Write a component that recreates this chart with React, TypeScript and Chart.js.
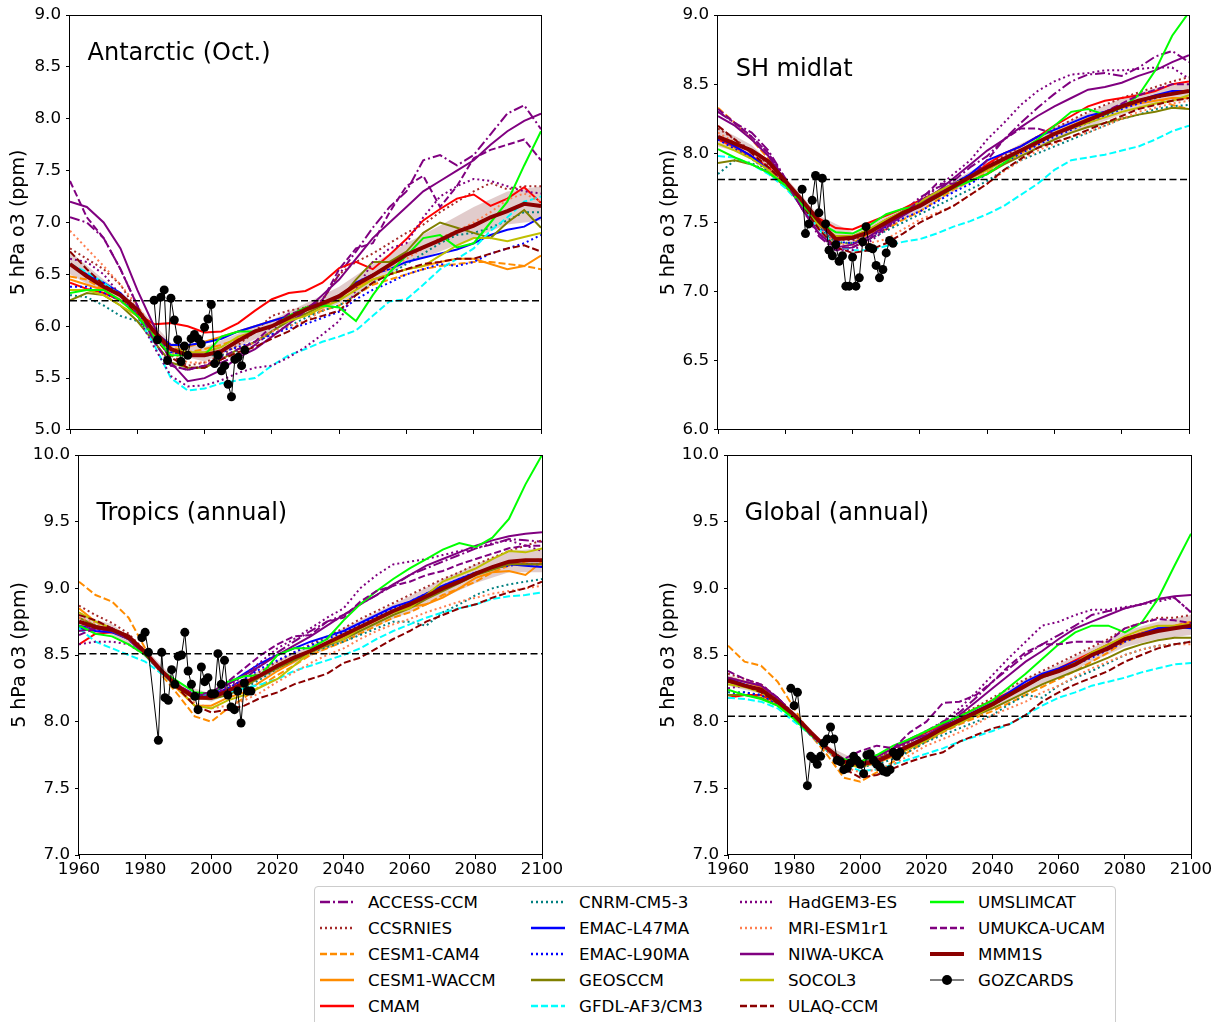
import React, { useEffect, useRef } from 'react';
import { Chart, registerables } from 'chart.js';
Chart.register(...registerables);

const FONT = '"DejaVu Sans", "Liberation Sans", sans-serif';

// ---------------- x grids ----------------
const YEARS = [1960,1965,1970,1975,1980,1985,1990,1995,2000,2005,2010,2015,2020,2025,2030,2035,2040,2045,2050,2055,2060,2065,2070,2075,2080,2085,2090,2095,2100];
const BAND_YEARS = [1960,1970,1980,1990,2000,2010,2020,2030,2040,2050,2060,2070,2080,2090,2100];

// ---------------- Antarctic (Oct.) ----------------
const antACCESS = [7.05,7.00,6.85,6.55,6.20,5.85,5.62,5.58,5.62,5.65,5.72,5.82,5.95,6.10,6.18,6.25,6.50,6.72,6.95,7.15,7.30,7.60,7.65,7.55,7.65,7.85,8.05,8.13,7.90];
const antCCSR = [6.75,6.65,6.55,6.40,6.15,5.95,5.72,5.62,5.65,5.72,5.82,5.95,6.10,6.15,6.18,6.25,6.50,6.62,6.70,6.80,6.90,6.98,7.10,7.20,7.30,7.38,7.32,7.35,7.35];
const antCAM4 = [6.48,6.45,6.35,6.25,6.12,5.95,5.80,5.75,5.78,5.82,5.88,5.95,6.00,6.05,6.10,6.15,6.20,6.30,6.40,6.45,6.50,6.55,6.58,6.60,6.62,6.62,6.60,6.58,6.55];
const antWACCM = [6.45,6.40,6.35,6.25,6.12,5.95,5.82,5.80,5.85,5.90,5.95,6.00,6.05,6.10,6.15,6.20,6.28,6.38,6.45,6.50,6.55,6.58,6.62,6.65,6.65,6.60,6.55,6.58,6.68];
const antCMAM = [6.42,6.36,6.32,6.25,6.12,6.02,6.03,6.00,5.94,5.95,6.03,6.15,6.26,6.32,6.34,6.42,6.56,6.62,6.55,6.69,6.84,7.02,7.13,7.23,7.27,7.16,7.23,7.34,7.19];
const antCNRM = [6.30,6.28,6.20,6.10,6.05,5.92,5.75,5.72,5.72,5.72,5.76,5.85,5.92,6.00,6.08,6.15,6.20,6.30,6.42,6.50,6.60,6.70,6.80,6.88,6.90,6.95,7.02,7.10,7.10];
const antEMAC47 = [6.60,6.50,6.42,6.32,6.15,5.95,5.82,5.82,5.84,5.88,5.95,6.00,6.05,6.10,6.16,6.20,6.28,6.42,6.50,6.55,6.62,6.66,6.70,6.74,6.80,6.88,6.93,6.96,7.05];
const antEMAC90 = [6.38,6.38,6.32,6.25,6.12,5.92,5.75,5.72,5.72,5.75,5.80,5.85,5.92,5.98,6.02,6.08,6.14,6.26,6.35,6.42,6.50,6.55,6.60,6.58,6.62,6.70,6.75,6.80,6.88];
const antGEOS = [6.25,6.32,6.30,6.20,6.05,5.85,5.65,5.60,5.60,5.68,5.78,5.85,5.95,6.05,6.12,6.20,6.25,6.45,6.62,6.62,6.72,6.90,7.00,6.95,6.90,6.85,7.00,7.12,6.95];
const antGFDL = [6.60,6.52,6.42,6.30,6.10,5.82,5.50,5.38,5.40,5.45,5.48,5.50,5.62,5.72,5.78,5.85,5.90,5.96,6.10,6.24,6.26,6.40,6.55,6.65,6.75,6.92,7.05,7.20,7.25];
const antHAD = [6.65,6.62,6.50,6.30,6.10,5.80,5.52,5.42,5.43,5.48,5.55,5.60,5.62,5.70,5.80,5.92,6.05,6.35,6.62,6.75,6.80,7.05,7.25,7.35,7.42,7.40,7.35,7.30,7.28];
const antMRI = [6.92,6.75,6.58,6.40,6.20,5.95,5.75,5.65,5.65,5.68,5.75,5.85,5.95,6.00,6.05,6.15,6.30,6.40,6.50,6.55,6.65,6.75,6.85,6.92,7.00,7.10,7.22,7.28,7.20];
const antNIWA = [7.20,7.15,7.00,6.75,6.35,6.00,5.65,5.47,5.50,5.58,5.70,5.78,5.90,6.02,6.15,6.30,6.45,6.65,6.85,7.00,7.15,7.30,7.40,7.50,7.60,7.75,7.88,7.98,8.05];
const antSOCOL = [6.35,6.35,6.30,6.20,6.10,5.92,5.78,5.75,5.75,5.80,5.90,5.95,6.00,6.05,6.10,6.18,6.25,6.35,6.45,6.50,6.55,6.58,6.68,6.78,6.85,6.85,6.82,6.86,6.90];
const antULAQ = [6.72,6.55,6.40,6.30,6.10,5.90,5.70,5.60,5.60,5.68,5.75,5.80,5.88,5.95,6.05,6.10,6.15,6.30,6.42,6.50,6.55,6.60,6.62,6.65,6.65,6.70,6.75,6.78,6.72];
const antSLIM = [6.32,6.35,6.35,6.25,6.10,5.90,5.72,5.72,5.72,5.90,5.95,5.95,6.00,6.10,6.18,6.20,6.18,6.05,6.30,6.52,6.68,6.85,6.88,6.76,6.80,7.00,7.20,7.55,7.88];
const antUMUKCA = [7.40,7.05,6.85,6.55,6.20,5.85,5.62,5.58,5.62,5.70,5.78,5.85,6.00,6.12,6.15,6.25,6.55,6.75,6.80,7.10,7.35,7.45,7.15,7.35,7.62,7.70,7.75,7.80,7.60];
const antMMM = [6.60,6.48,6.38,6.30,6.16,5.95,5.78,5.72,5.72,5.76,5.86,5.95,6.00,6.08,6.16,6.22,6.29,6.40,6.49,6.59,6.69,6.76,6.83,6.91,6.97,7.05,7.11,7.18,7.16];
const antLO = [6.50,6.32,6.12,5.74,5.66,5.80,5.95,6.10,6.22,6.40,6.60,6.72,6.85,6.98,7.02];
const antHI = [6.72,6.45,6.20,5.84,5.80,5.93,6.06,6.22,6.38,6.60,6.80,6.97,7.15,7.30,7.35];
const antREF = 6.245;
const antOBS_YEARS = [1985,1986,1987,1988,1989,1990,1991,1992,1993,1994,1995,1996,1997,1998,1999,2000,2001,2002,2003,2004,2005,2006,2007,2008,2009,2010,2011,2012];
const antOBS = [6.25,5.87,6.28,6.35,5.67,6.27,6.06,5.87,5.66,5.81,5.72,5.88,5.92,5.88,5.83,5.99,6.07,6.21,5.64,5.72,5.57,5.62,5.44,5.32,5.68,5.70,5.62,5.77];

// ---------------- SH midlat ----------------
const shACCESS = [8.30,8.22,8.15,8.02,7.82,7.60,7.40,7.30,7.32,7.38,7.48,7.58,7.68,7.75,7.80,7.90,7.98,8.10,8.22,8.33,8.43,8.52,8.57,8.58,8.56,8.62,8.70,8.74,8.66];
const shCCSR = [8.18,8.10,8.02,7.92,7.80,7.65,7.48,7.38,7.37,7.42,7.50,7.57,7.64,7.71,7.78,7.85,7.92,7.98,8.05,8.12,8.18,8.24,8.30,8.35,8.40,8.44,8.48,8.52,8.55];
const shCAM4 = [8.33,8.22,8.10,7.96,7.80,7.62,7.45,7.35,7.35,7.42,7.45,7.52,7.58,7.66,7.74,7.80,7.86,7.93,8.00,8.07,8.14,8.20,8.25,8.30,8.35,8.38,8.40,8.35,8.32];
const shWACCM = [8.10,8.04,7.97,7.88,7.78,7.64,7.49,7.40,7.40,7.44,7.50,7.57,7.63,7.70,7.76,7.82,7.88,7.95,8.02,8.08,8.15,8.20,8.25,8.30,8.33,8.36,8.38,8.40,8.40];
const shCMAM = [8.10,8.05,7.98,7.90,7.78,7.65,7.53,7.46,7.45,7.50,7.55,7.60,7.66,7.72,7.77,7.83,7.92,8.00,8.05,8.12,8.20,8.27,8.34,8.38,8.40,8.42,8.45,8.50,8.52];
const shCNRM = [7.85,7.95,7.93,7.86,7.76,7.62,7.46,7.36,7.35,7.38,7.44,7.50,7.56,7.62,7.68,7.74,7.80,7.88,7.95,8.00,8.05,8.10,8.15,8.20,8.25,8.28,8.32,8.34,8.35];
const shEMAC47 = [8.12,8.05,7.98,7.88,7.78,7.63,7.48,7.38,7.38,7.44,7.50,7.58,7.65,7.72,7.78,7.85,7.95,8.00,8.05,8.12,8.17,8.22,8.27,8.30,8.35,8.38,8.42,8.45,8.45];
const shEMAC90 = [8.10,8.03,7.96,7.87,7.77,7.62,7.46,7.36,7.35,7.40,7.47,7.53,7.58,7.65,7.72,7.78,7.85,7.93,8.00,8.06,8.12,8.17,8.22,8.27,8.32,8.36,8.40,8.43,8.45];
const shGEOS = [7.93,7.95,7.92,7.86,7.76,7.63,7.48,7.40,7.40,7.45,7.52,7.58,7.64,7.70,7.76,7.80,7.85,7.92,7.98,8.04,8.10,8.15,8.19,8.22,8.25,8.28,8.30,8.33,8.32];
const shGFDL = [7.98,7.97,7.92,7.85,7.75,7.62,7.45,7.33,7.30,7.30,7.33,7.36,7.38,7.42,7.47,7.51,7.56,7.62,7.70,7.78,7.88,7.95,7.97,7.99,8.02,8.05,8.10,8.16,8.20];
const shHAD = [8.30,8.22,8.12,8.00,7.82,7.60,7.42,7.30,7.30,7.36,7.45,7.55,7.65,7.75,7.85,7.95,8.10,8.22,8.35,8.45,8.52,8.57,8.58,8.60,8.60,8.61,8.62,8.62,8.54];
const shMRI = [8.15,8.08,8.00,7.90,7.78,7.63,7.46,7.35,7.33,7.35,7.38,7.45,7.52,7.57,7.62,7.70,7.78,7.87,7.95,8.02,8.07,8.12,8.15,8.20,8.25,8.30,8.33,8.36,8.38];
const shNIWA = [8.27,8.20,8.10,7.98,7.80,7.60,7.42,7.32,7.34,7.40,7.48,7.55,7.62,7.72,7.82,7.92,8.02,8.10,8.19,8.27,8.34,8.40,8.46,8.48,8.51,8.56,8.60,8.66,8.71];
const shSOCOL = [8.07,8.02,7.96,7.88,7.77,7.63,7.48,7.40,7.40,7.45,7.52,7.58,7.65,7.72,7.78,7.83,7.88,7.95,8.02,8.08,8.14,8.18,8.22,8.26,8.30,8.33,8.36,8.38,8.42];
const shULAQ = [8.20,8.10,8.00,7.90,7.78,7.63,7.45,7.32,7.28,7.30,7.35,7.42,7.50,7.56,7.62,7.70,7.78,7.88,7.96,8.04,8.08,8.12,8.17,8.22,8.27,8.32,8.35,8.38,8.40];
const shSLIM = [8.03,7.97,7.92,7.86,7.77,7.63,7.50,7.43,7.42,7.48,7.56,7.60,7.62,7.68,7.75,7.80,7.85,7.93,8.02,8.10,8.20,8.30,8.32,8.28,8.33,8.42,8.60,8.85,9.02];
const shUMUKCA = [8.32,8.22,8.12,8.00,7.80,7.60,7.42,7.32,7.32,7.38,7.46,7.56,7.66,7.78,7.78,7.82,7.95,8.10,8.18,8.18,8.14,8.18,8.24,8.30,8.36,8.42,8.46,8.50,8.50];
const shMMM = [8.12,8.07,8.02,7.94,7.80,7.66,7.51,7.38,7.39,7.43,7.50,7.57,7.62,7.69,7.76,7.83,7.90,7.96,8.02,8.08,8.14,8.19,8.24,8.29,8.34,8.38,8.41,8.43,8.45];
const shLO = [8.05,7.98,7.77,7.47,7.35,7.46,7.58,7.72,7.86,7.97,8.09,8.19,8.28,8.35,8.39];
const shHI = [8.19,8.06,7.83,7.55,7.43,7.54,7.66,7.80,7.94,8.07,8.19,8.29,8.40,8.47,8.51];
const shREF = 7.81;
const shOBS_YEARS = [1985,1986,1987,1988,1989,1990,1991,1992,1993,1994,1995,1996,1997,1998,1999,2000,2001,2002,2003,2004,2005,2006,2007,2008,2009,2010,2011,2012];
const shOBS = [7.74,7.42,7.49,7.66,7.84,7.57,7.82,7.49,7.30,7.26,7.34,7.22,7.26,7.04,7.04,7.25,7.04,7.10,7.36,7.47,7.32,7.31,7.19,7.10,7.16,7.28,7.37,7.35];

// ---------------- Tropics (annual) ----------------
const trACCESS = [8.72,8.70,8.68,8.62,8.50,8.38,8.27,8.20,8.20,8.25,8.32,8.42,8.52,8.60,8.68,8.75,8.80,8.88,8.95,9.02,9.10,9.15,9.20,9.25,9.30,9.33,9.37,9.36,9.35];
const trCCSR = [8.87,8.80,8.74,8.66,8.53,8.38,8.26,8.18,8.18,8.24,8.30,8.38,8.45,8.52,8.58,8.64,8.70,8.77,8.83,8.89,8.95,9.01,9.07,9.12,9.18,9.23,9.28,9.32,9.36];
const trCAM4 = [9.05,8.95,8.90,8.78,8.55,8.35,8.20,8.04,8.00,8.10,8.18,8.27,8.35,8.42,8.50,8.55,8.60,8.66,8.72,8.78,8.82,8.88,8.95,9.00,9.05,9.12,9.17,9.20,9.22];
const trWACCM = [8.85,8.75,8.70,8.64,8.52,8.37,8.24,8.12,8.12,8.18,8.22,8.30,8.38,8.45,8.52,8.58,8.64,8.70,8.76,8.82,8.86,8.88,8.93,9.00,9.08,9.12,9.13,9.10,9.20];
const trCMAM = [8.58,8.66,8.67,8.64,8.52,8.38,8.27,8.19,8.18,8.22,8.28,8.35,8.42,8.48,8.53,8.59,8.65,8.71,8.77,8.83,8.89,8.95,9.01,9.06,9.11,9.15,9.18,9.18,9.18];
const trCNRM = [8.75,8.72,8.68,8.62,8.50,8.37,8.26,8.19,8.18,8.20,8.25,8.32,8.40,8.46,8.52,8.56,8.60,8.65,8.70,8.75,8.75,8.72,8.82,8.88,8.95,9.00,9.03,9.05,9.07];
const trEMAC47 = [8.70,8.68,8.67,8.62,8.50,8.37,8.26,8.20,8.21,8.28,8.36,8.44,8.50,8.55,8.60,8.64,8.68,8.74,8.80,8.86,8.90,8.96,9.02,9.07,9.12,9.15,9.18,9.17,9.16];
const trEMAC90 = [8.72,8.69,8.68,8.62,8.50,8.37,8.26,8.19,8.19,8.25,8.32,8.40,8.46,8.52,8.57,8.62,8.67,8.73,8.79,8.85,8.90,8.96,9.02,9.07,9.12,9.15,9.17,9.18,9.18];
const trGEOS = [8.78,8.72,8.68,8.62,8.50,8.37,8.26,8.18,8.17,8.20,8.26,8.34,8.40,8.46,8.52,8.57,8.62,8.68,8.74,8.80,8.85,8.92,8.98,9.04,9.10,9.14,9.18,9.18,9.18];
const trGFDL = [8.70,8.60,8.55,8.50,8.45,8.36,8.26,8.21,8.20,8.22,8.25,8.28,8.32,8.38,8.42,8.46,8.50,8.55,8.62,8.68,8.73,8.78,8.82,8.85,8.88,8.92,8.94,8.95,8.97];
const trHAD = [8.58,8.60,8.60,8.58,8.50,8.38,8.27,8.20,8.20,8.26,8.35,8.45,8.55,8.62,8.70,8.78,8.85,9.00,9.10,9.18,9.20,9.22,9.25,9.28,9.30,9.34,9.36,9.32,9.28];
const trMRI = [8.78,8.74,8.70,8.64,8.52,8.38,8.25,8.14,8.10,8.12,8.16,8.22,8.30,8.37,8.44,8.50,8.55,8.62,8.68,8.73,8.77,8.82,8.86,8.90,8.93,8.96,8.98,9.00,9.02];
const trNIWA = [8.68,8.70,8.68,8.62,8.50,8.38,8.27,8.20,8.22,8.28,8.35,8.42,8.50,8.57,8.64,8.72,8.80,8.88,8.95,9.03,9.10,9.17,9.22,9.27,9.32,9.36,9.39,9.41,9.42];
const trSOCOL = [8.82,8.75,8.70,8.64,8.52,8.38,8.25,8.12,8.10,8.16,8.20,8.26,8.32,8.42,8.52,8.58,8.62,8.70,8.77,8.82,8.85,8.95,9.05,9.10,9.15,9.22,9.28,9.27,9.30];
const trULAQ = [8.80,8.76,8.70,8.62,8.52,8.38,8.25,8.12,8.07,8.09,8.12,8.18,8.22,8.28,8.32,8.36,8.44,8.48,8.55,8.62,8.68,8.75,8.80,8.85,8.88,8.93,8.97,9.00,9.05];
const trSLIM = [8.72,8.66,8.64,8.58,8.50,8.38,8.30,8.22,8.21,8.30,8.34,8.35,8.50,8.55,8.55,8.62,8.76,8.88,8.98,9.07,9.15,9.22,9.29,9.34,9.31,9.38,9.52,9.78,10.00];
const trUMUKCA = [8.65,8.70,8.70,8.64,8.52,8.38,8.27,8.20,8.22,8.30,8.40,8.50,8.58,8.64,8.65,8.75,8.78,8.90,8.98,9.02,9.05,9.10,9.13,9.18,9.22,9.26,9.30,9.32,9.32];
const trMMM = [8.75,8.71,8.69,8.64,8.52,8.38,8.26,8.18,8.18,8.23,8.29,8.35,8.42,8.48,8.53,8.59,8.65,8.71,8.77,8.83,8.88,8.94,9.00,9.05,9.11,9.16,9.20,9.21,9.21];
const trLO = [8.70,8.65,8.49,8.23,8.15,8.26,8.38,8.49,8.60,8.72,8.82,8.93,9.04,9.12,9.12];
const trHI = [8.80,8.73,8.55,8.29,8.21,8.32,8.46,8.57,8.70,8.82,8.94,9.07,9.18,9.28,9.30];
const trREF = 8.51;
const trOBS_YEARS = [1979,1980,1981,1984,1985,1986,1987,1988,1989,1990,1991,1992,1993,1994,1995,1996,1997,1998,1999,2000,2001,2002,2003,2004,2005,2006,2007,2008,2009,2010,2011,2012];
const trOBS = [8.63,8.67,8.52,7.86,8.52,8.18,8.16,8.39,8.28,8.49,8.50,8.67,8.38,8.28,8.19,8.09,8.41,8.30,8.33,8.21,8.21,8.51,8.28,8.46,8.20,8.11,8.09,8.23,7.99,8.29,8.23,8.23];

// ---------------- Global (annual) ----------------
const glACCESS = [8.33,8.30,8.27,8.18,8.05,7.92,7.80,7.70,7.70,7.74,7.80,7.87,7.93,8.00,8.07,8.18,8.30,8.40,8.50,8.58,8.65,8.72,8.80,8.83,8.85,8.88,8.92,8.93,8.82];
const glCCSR = [8.36,8.32,8.28,8.18,8.06,7.92,7.80,7.70,7.69,7.73,7.79,7.85,7.92,7.98,8.05,8.11,8.18,8.25,8.32,8.38,8.44,8.50,8.56,8.62,8.70,8.74,8.78,8.78,8.80];
const glCAM4 = [8.57,8.45,8.42,8.30,8.10,7.90,7.75,7.58,7.55,7.62,7.70,7.78,7.85,7.92,7.98,8.03,8.08,8.14,8.20,8.26,8.32,8.38,8.45,8.52,8.60,8.64,8.68,8.72,8.75];
const glWACCM = [8.33,8.30,8.26,8.17,8.05,7.91,7.78,7.68,7.66,7.69,7.74,7.80,7.86,7.93,7.99,8.05,8.12,8.20,8.27,8.34,8.38,8.43,8.50,8.56,8.62,8.67,8.70,8.72,8.74];
const glCMAM = [8.18,8.20,8.20,8.14,8.04,7.92,7.80,7.71,7.70,7.74,7.80,7.86,7.92,7.98,8.04,8.10,8.16,8.22,8.28,8.35,8.40,8.46,8.52,8.58,8.63,8.66,8.69,8.70,8.72];
const glCNRM = [8.22,8.22,8.20,8.13,8.02,7.90,7.78,7.68,7.66,7.68,7.72,7.78,7.85,7.90,7.95,8.00,8.05,8.13,8.20,8.18,8.27,8.33,8.38,8.44,8.50,8.54,8.57,8.58,8.60];
const glEMAC47 = [8.32,8.28,8.24,8.15,8.05,7.92,7.80,7.70,7.68,7.71,7.77,7.83,7.89,7.96,8.02,8.08,8.14,8.22,8.30,8.36,8.40,8.45,8.50,8.56,8.62,8.66,8.70,8.71,8.70];
const glEMAC90 = [8.20,8.22,8.20,8.13,8.03,7.91,7.79,7.69,7.67,7.70,7.75,7.80,7.86,7.93,7.99,8.05,8.12,8.20,8.27,8.33,8.38,8.43,8.48,8.54,8.60,8.65,8.68,8.70,8.72];
const glGEOS = [8.20,8.20,8.18,8.12,8.03,7.91,7.79,7.70,7.69,7.72,7.77,7.83,7.88,7.94,8.00,8.05,8.10,8.16,8.22,8.28,8.33,8.38,8.43,8.48,8.54,8.58,8.61,8.63,8.63];
const glGFDL = [8.18,8.17,8.15,8.10,8.00,7.90,7.78,7.68,7.63,7.64,7.68,7.72,7.76,7.80,7.85,7.89,7.93,7.98,8.05,8.12,8.18,8.22,8.27,8.30,8.33,8.37,8.40,8.43,8.44];
const glHAD = [8.25,8.27,8.25,8.17,8.04,7.90,7.78,7.68,7.68,7.72,7.78,7.85,7.92,8.00,8.10,8.22,8.35,8.48,8.60,8.72,8.75,8.80,8.84,8.84,8.86,8.88,8.90,8.93,8.82];
const glMRI = [8.30,8.27,8.23,8.15,8.04,7.90,7.78,7.66,7.62,7.64,7.68,7.75,7.82,7.87,7.92,7.98,8.05,8.10,8.15,8.22,8.27,8.34,8.40,8.45,8.50,8.54,8.57,8.58,8.58];
const glNIWA = [8.33,8.30,8.27,8.18,8.05,7.92,7.80,7.70,7.70,7.74,7.80,7.86,7.90,7.97,8.05,8.15,8.25,8.35,8.45,8.53,8.62,8.70,8.75,8.80,8.85,8.88,8.92,8.94,8.95];
const glSOCOL = [8.28,8.26,8.22,8.14,8.04,7.91,7.79,7.68,7.66,7.70,7.75,7.80,7.86,7.93,7.99,8.05,8.12,8.20,8.27,8.33,8.38,8.44,8.52,8.58,8.64,8.69,8.72,8.72,8.73];
const glULAQ = [8.30,8.27,8.22,8.14,8.05,7.92,7.80,7.65,7.58,7.60,7.65,7.70,7.74,7.77,7.85,7.90,7.95,7.98,8.05,8.15,8.22,8.28,8.33,8.38,8.45,8.50,8.55,8.58,8.60];
const glSLIM = [8.24,8.20,8.17,8.12,8.02,7.90,7.80,7.72,7.70,7.75,7.82,7.87,7.93,7.99,8.04,8.10,8.16,8.26,8.36,8.47,8.58,8.67,8.72,8.72,8.67,8.74,8.92,9.17,9.41];
const glUMUKCA = [8.38,8.32,8.28,8.18,8.05,7.90,7.80,7.72,7.78,7.82,7.80,7.92,8.00,8.14,8.15,8.20,8.30,8.42,8.52,8.58,8.58,8.60,8.60,8.60,8.70,8.74,8.77,8.76,8.74];
const glMMM = [8.31,8.27,8.24,8.15,8.05,7.92,7.80,7.70,7.68,7.70,7.76,7.82,7.88,7.95,8.01,8.07,8.13,8.20,8.27,8.34,8.38,8.43,8.50,8.55,8.62,8.65,8.68,8.70,8.72];
const glLO = [8.27,8.21,8.03,7.78,7.66,7.74,7.85,7.98,8.09,8.22,8.33,8.45,8.56,8.62,8.65];
const glHI = [8.35,8.27,8.07,7.82,7.70,7.78,7.91,8.04,8.17,8.32,8.43,8.55,8.68,8.75,8.80];
const glREF = 8.04;
const glOBS_YEARS = [1979,1980,1981,1984,1985,1986,1987,1988,1989,1990,1991,1992,1993,1994,1995,1996,1997,1998,1999,2000,2001,2002,2003,2004,2005,2006,2007,2008,2009,2010,2011,2012];
const glOBS = [8.25,8.12,8.22,7.52,7.74,7.72,7.68,7.74,7.84,7.87,7.96,7.87,7.71,7.70,7.64,7.65,7.69,7.74,7.71,7.68,7.61,7.75,7.76,7.71,7.68,7.66,7.63,7.62,7.64,7.77,7.74,7.77];

// ---------------- model names & styles ----------------
const MODEL_NAMES = ['ACCESS-CCM','CCSRNIES','CESM1-CAM4','CESM1-WACCM','CMAM','CNRM-CM5-3','EMAC-L47MA','EMAC-L90MA','GEOSCCM','GFDL-AF3/CM3','HadGEM3-ES','MRI-ESM1r1','NIWA-UKCA','SOCOL3','ULAQ-CCM','UMSLIMCAT','UMUKCA-UCAM'];
const MODEL_COLORS = ['#800080','#a52a2a','#ff8c00','#ff8c00','#ff0000','#008080','#0000ff','#0000ff','#808000','#00ffff','#800080','#ff7f50','#800080','#bfbf00','#8b0000','#00ff00','#800080'];
const MODEL_STYLES = ['dashdot','dotted','dashed','solid','solid','dotted','solid','dotted','solid','dashed','dotted','dotted','solid','solid','dashed','solid','dashed'];
const DASHES: Record<string, number[]> = { solid: [], dashed: [7, 3], dotted: [2, 3], dashdot: [10, 3, 2, 3] };
const MMM_COLOR = '#8b0000';
const BAND_COLOR = 'rgba(188,143,143,0.45)';

const PANELS = [
  { title: 'Antarctic (Oct.)', min: 5, max: 9, ref: antREF, mmm: antMMM, lo: antLO, hi: antHI, obsX: antOBS_YEARS, obsY: antOBS,
    models: [antACCESS, antCCSR, antCAM4, antWACCM, antCMAM, antCNRM, antEMAC47, antEMAC90, antGEOS, antGFDL, antHAD, antMRI, antNIWA, antSOCOL, antULAQ, antSLIM, antUMUKCA],
    box: { left: 0, top: 0, w: 570, h: 445 }, plot: { left: 70, right: 541, top: 14, bottom: 433 }, tdx: 17.5, tdy: 39, lx: 19.5, showX: false },
  { title: 'SH midlat', min: 6, max: 9, ref: shREF, mmm: shMMM, lo: shLO, hi: shHI, obsX: shOBS_YEARS, obsY: shOBS,
    models: [shACCESS, shCCSR, shCAM4, shWACCM, shCMAM, shCNRM, shEMAC47, shEMAC90, shGEOS, shGFDL, shHAD, shMRI, shNIWA, shSOCOL, shULAQ, shSLIM, shUMUKCA],
    box: { left: 648, top: 0, w: 570, h: 445 }, plot: { left: 718, right: 1189, top: 14, bottom: 433 }, tdx: 17.7, tdy: 55, lx: 20.7, showX: false },
  { title: 'Tropics (annual)', min: 7, max: 10, ref: trREF, mmm: trMMM, lo: trLO, hi: trHI, obsX: trOBS_YEARS, obsY: trOBS,
    models: [trACCESS, trCCSR, trCAM4, trWACCM, trCMAM, trCNRM, trEMAC47, trEMAC90, trGEOS, trGFDL, trHAD, trMRI, trNIWA, trSOCOL, trULAQ, trSLIM, trUMUKCA],
    box: { left: 0, top: 440, w: 570, h: 440 }, plot: { left: 79, right: 542, top: 453, bottom: 855 }, tdx: 17.4, tdy: 59, lx: 19.6, showX: true },
  { title: 'Global (annual)', min: 7, max: 10, ref: glREF, mmm: glMMM, lo: glLO, hi: glHI, obsX: glOBS_YEARS, obsY: glOBS,
    models: [glACCESS, glCCSR, glCAM4, glWACCM, glCMAM, glCNRM, glEMAC47, glEMAC90, glGEOS, glGFDL, glHAD, glMRI, glNIWA, glSOCOL, glULAQ, glSLIM, glUMUKCA],
    box: { left: 648, top: 440, w: 571, h: 440 }, plot: { left: 728, right: 1191, top: 453, bottom: 855 }, tdx: 16.6, tdy: 59, lx: 21, showX: true },
];

const framePlugin = {
  id: 'frame',
  afterDraw(chart: any, _args: any, opts: any) {
    const { ctx, chartArea } = chart;
    const { left, top, right, bottom } = chartArea;
    ctx.save();
    ctx.strokeStyle = '#000';
    ctx.lineWidth = 1;
    ctx.strokeRect(Math.round(left) - 0.5, Math.round(top) + 0.5, Math.round(right - left) + 1, Math.round(bottom - top) - 1);
    ctx.fillStyle = '#000';
    ctx.font = `24px ${FONT}`;
    ctx.textAlign = 'left';
    ctx.textBaseline = 'middle';
    ctx.fillText(opts.title, left + opts.tdx, top + opts.tdy);
    ctx.translate(opts.lx, (top + bottom) / 2);
    ctx.rotate(-Math.PI / 2);
    ctx.font = `19px ${FONT}`;
    ctx.textAlign = 'center';
    ctx.fillText('5 hPa o3 (ppm)', 0, 0);
    ctx.restore();
  },
};

function buildConfig(p: any) {
  const ds: any[] = [];
  p.models.forEach((arr: number[], i: number) => {
    ds.push({
      label: MODEL_NAMES[i],
      data: YEARS.map((x, j) => ({ x, y: arr[j] })),
      borderColor: MODEL_COLORS[i],
      borderWidth: 2,
      borderDash: DASHES[MODEL_STYLES[i]],
      pointRadius: 0,
      fill: false,
      order: 100 - i,
    });
  });
  ds.push({ label: 'band-lo', data: BAND_YEARS.map((x, j) => ({ x, y: p.lo[j] })), borderColor: 'transparent', borderWidth: 0, pointRadius: 0, fill: false, order: 200 });
  ds.push({ label: 'band-hi', data: BAND_YEARS.map((x, j) => ({ x, y: p.hi[j] })), borderColor: 'transparent', borderWidth: 0, pointRadius: 0, fill: '-1', backgroundColor: BAND_COLOR, order: 200 });
  ds.push({ label: 'ref', data: [{ x: 1960, y: p.ref }, { x: 2100, y: p.ref }], borderColor: '#000', borderWidth: 1.5, borderDash: [7, 3.5], pointRadius: 0, fill: false, order: 3 });
  ds.push({ label: 'MMM1S', data: YEARS.map((x, j) => ({ x, y: p.mmm[j] })), borderColor: MMM_COLOR, borderWidth: 4, pointRadius: 0, fill: false, order: 1 });
  ds.push({ label: 'GOZCARDS', data: p.obsX.map((x: number, j: number) => ({ x, y: p.obsY[j] })), borderColor: '#000', borderWidth: 1, pointRadius: 4.5, pointBackgroundColor: '#000', pointBorderWidth: 0, fill: false, order: 0 });

  const yw = p.plot.left - p.box.left;
  const xh = p.box.top + p.box.h - p.plot.bottom;
  const tickFont = { family: FONT, size: 16.7 };
  return {
    type: 'line',
    data: { datasets: ds },
    options: {
      animation: false,
      responsive: false,
      devicePixelRatio: 1,
      events: [],
      layout: { padding: { left: 0, top: p.plot.top - p.box.top, right: p.box.left + p.box.w - p.plot.right, bottom: 0 } },
      plugins: {
        legend: { display: false },
        tooltip: { enabled: false },
        filler: { propagate: false, drawTime: 'beforeDatasetsDraw' },
        frame: { title: p.title, tdx: p.tdx, tdy: p.tdy, lx: p.lx },
      },
      scales: {
        x: {
          type: 'linear', position: 'bottom', min: 1960, max: 2100,
          afterFit: (s: any) => { s.height = xh; },
          border: { display: false },
          grid: { drawOnChartArea: false, drawTicks: true, tickLength: 4, color: '#000', lineWidth: 1 },
          ticks: { display: p.showX, stepSize: 20, autoSkip: false, maxRotation: 0, padding: 1, color: '#000', font: tickFont, callback: (v: any) => String(v) },
        },
        y: {
          type: 'linear', position: 'left', min: p.min, max: p.max,
          afterFit: (s: any) => { s.width = yw; },
          border: { display: false },
          grid: { drawOnChartArea: false, drawTicks: true, tickLength: 4, color: '#000', lineWidth: 1 },
          ticks: { stepSize: 0.5, padding: 5, color: '#000', font: tickFont, callback: (v: any) => Number(v).toFixed(1) },
        },
      },
    },
    plugins: [framePlugin],
  };
}

function Panel({ p }: { p: any }) {
  const ref = useRef<HTMLCanvasElement>(null);
  useEffect(() => {
    const chart = new Chart(ref.current as HTMLCanvasElement, buildConfig(p) as any);
    return () => chart.destroy();
  }, []);
  return (
    <canvas
      ref={ref}
      width={p.box.w}
      height={p.box.h}
      style={{ position: 'absolute', left: p.box.left, top: p.box.top, width: p.box.w, height: p.box.h }}
    />
  );
}

const LEGEND_COL_X = [320, 531, 740, 930];
const LEGEND_ROW_Y = [902, 928, 954, 980, 1006];

function Handle({ name, color, style }: { name: string; color: string; style: string }) {
  if (name === 'GOZCARDS') {
    return (
      <svg width={34} height={14} style={{ display: 'block' }}>
        <line x1={0} y1={7} x2={34} y2={7} stroke="#000" strokeWidth={1} />
        <circle cx={17} cy={7} r={5} fill="#000" />
      </svg>
    );
  }
  const w = name === 'MMM1S' ? 4 : 2.5;
  const dash = DASHES[style].join(' ');
  return (
    <svg width={34} height={14} style={{ display: 'block' }}>
      <line x1={0} y1={7} x2={34} y2={7} stroke={color} strokeWidth={w} strokeDasharray={dash || undefined} />
    </svg>
  );
}

function Legend() {
  const items = MODEL_NAMES.map((n, i) => ({ name: n, color: MODEL_COLORS[i], style: MODEL_STYLES[i] }));
  items.push({ name: 'MMM1S', color: MMM_COLOR, style: 'solid' });
  items.push({ name: 'GOZCARDS', color: '#000', style: 'solid' });
  const L = 314, T = 886;
  return (
    <div style={{ position: 'absolute', left: L, top: T, width: 802, height: 160, border: '1px solid #cccccc', borderRadius: 4, boxSizing: 'border-box', background: '#fff' }}>
      {items.map((it, i) => {
        const c = Math.floor(i / 5), r = i % 5;
        return (
          <div key={it.name} style={{ position: 'absolute', left: LEGEND_COL_X[c] - L - 1, top: LEGEND_ROW_Y[r] - T - 1 - 10, height: 20, display: 'flex', alignItems: 'center', whiteSpace: 'nowrap' }}>
            <Handle name={it.name} color={it.color} style={it.style} />
            <span style={{ marginLeft: 14, fontFamily: FONT, fontSize: '16.7px', color: '#000', lineHeight: '20px' }}>{it.name}</span>
          </div>
        );
      })}
    </div>
  );
}

export default function App() {
  return (
    <div style={{ position: 'absolute', left: 0, top: 0, width: 1219, height: 1022, overflow: 'hidden', background: '#fff' }}>
      {PANELS.map((p) => <Panel key={p.title} p={p} />)}
      <Legend />
    </div>
  );
}
